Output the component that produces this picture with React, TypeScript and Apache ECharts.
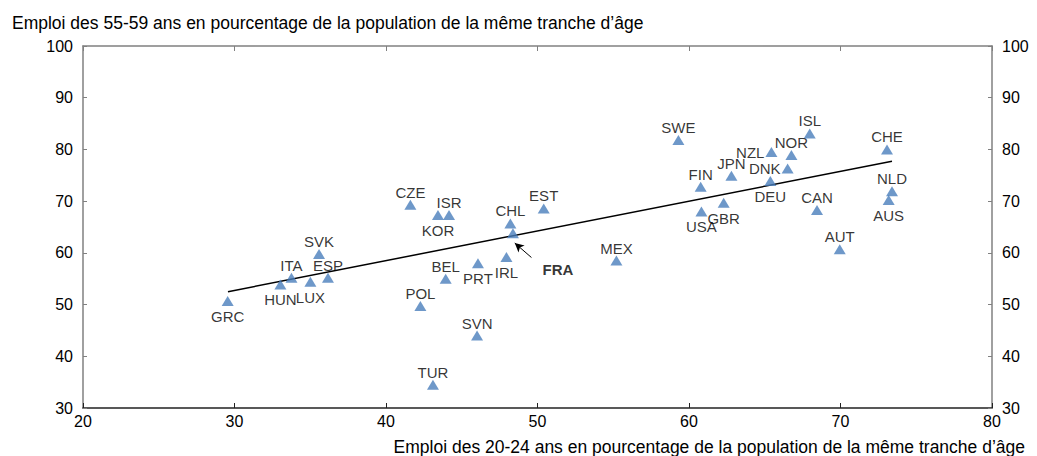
import React, { useEffect, useRef } from "react";
import * as echarts from "echarts";

const countries = ["GRC","HUN","ITA","LUX","ESP","SVK","CZE","KOR","ISR","BEL","POL","SVN","PRT","IRL","CHL","FRA","EST","TUR","MEX","SWE","FIN","USA","GBR","JPN","NZL","DEU","DNK","NOR","ISL","CAN","AUT","CHE","NLD","AUS"];
const youthEmployment = [29.55,33.03,33.76,35.01,36.17,35.58,41.61,43.43,44.16,43.94,42.27,46.01,46.07,47.95,48.21,48.38,50.41,43.10,55.21,59.30,60.77,60.82,62.29,62.80,65.44,65.37,66.51,66.76,67.97,68.45,69.95,73.07,73.40,73.18];
const seniorEmployment = [50.7,53.9,55.2,54.4,55.2,59.8,69.3,67.3,67.3,55.0,49.7,44.0,58.0,59.2,65.7,63.8,68.6,34.5,58.5,81.8,72.8,68.0,69.7,74.9,79.5,73.9,76.3,78.9,83.1,68.3,60.7,80.0,71.9,70.2];
// label placement: t = top, b = bottom, l = left, f = FRA (bold, offset)
const labelPlacement = ["b","b","t","b","t","t","t","b","t","t","t","t","b","b","t","f","t","t","t","t","t","b","b","t","l","b","l","t","t","t","t","t","t","b"];

const trendX = [29.57, 73.4];
const trendY = [52.5, 77.7];
const fraArrowFrom = [49.6, 59.1];
const fraArrowTo = [48.5, 61.9];

const xTicks = { min: 20, max: 80, interval: 10 };
const yTicks = { min: 30, max: 100, interval: 10 };

const titleY = "Emploi des 55-59 ans en pourcentage de la population de la même tranche d’âge";
const titleX = "Emploi des 20-24 ans en pourcentage de la population de la même tranche d’âge";

const FONT = "'Liberation Sans', Arial, sans-serif";
const BLUE = "#4a7ebb";

function labelFor(p: string) {
  const base: any = { show: true, color: "#000", fontSize: 15, fontFamily: FONT };
  if (p === "t") return { ...base, position: "top", distance: 0 };
  if (p === "b") return { ...base, position: "bottom", distance: 3 };
  if (p === "l") return { ...base, position: "left", distance: 1 };
  if (p === "r") return { ...base, position: "right", distance: 1 };
  return { ...base, position: "inside", offset: [45, 36], fontWeight: "bold" };
}

export default function App() {
  const ref = useRef<HTMLDivElement>(null);
  useEffect(() => {
    const chart = echarts.init(ref.current!, null, { renderer: "svg" });
    const scatterData = countries.map((c, i) => ({
      name: c,
      value: [youthEmployment[i], seniorEmployment[i]],
      label: { ...labelFor(labelPlacement[i]), formatter: c },
    }));
    const axisLabel = { color: "#000", fontSize: 16, fontFamily: FONT };
    chart.setOption({
      animation: false,
      title: [
        { text: titleY, left: 7, top: 9, textStyle: { fontSize: 17.5, fontWeight: "normal", color: "#000", fontFamily: FONT } },
        { text: titleX, right: 7, bottom: -4.5, textStyle: { fontSize: 17.5, fontWeight: "normal", color: "#000", fontFamily: FONT } },
      ],
      grid: { left: 83, right: 45, top: 46, bottom: 48 },
      xAxis: [
        {
          type: "value", ...xTicks, position: "bottom",
          axisLine: { show: true, lineStyle: { color: "#222", width: 1.5 } },
          axisTick: { show: true, inside: true, length: 5, lineStyle: { color: "#222" } },
          axisLabel: { ...axisLabel, margin: 5 },
          splitLine: { show: false },
        },
        {
          type: "value", ...xTicks, position: "top",
          axisLine: { show: true, onZero: false, lineStyle: { color: "#808080", width: 1.5 } },
          axisTick: { show: true, inside: true, length: 5, lineStyle: { color: "#808080" } },
          axisLabel: { show: false },
          splitLine: { show: false },
        },
      ],
      yAxis: [
        {
          type: "value", ...yTicks, position: "left",
          axisLine: { show: true, onZero: false, lineStyle: { color: "#808080", width: 1.5 } },
          axisTick: { show: true, inside: true, length: 4, lineStyle: { color: "#808080" } },
          axisLabel: { ...axisLabel, margin: 10 },
          splitLine: { show: false },
        },
        {
          type: "value", ...yTicks, position: "right",
          axisLine: { show: true, onZero: false, lineStyle: { color: "#808080", width: 1.5 } },
          axisTick: { show: true, inside: true, length: 4, lineStyle: { color: "#808080" } },
          axisLabel: { ...axisLabel, margin: 10 },
          splitLine: { show: false },
        },
      ],
      series: [
        {
          type: "line",
          data: trendX.map((x, i) => [x, trendY[i]]),
          symbol: "none",
          lineStyle: { color: "#000", width: 1.5 },
          z: 1,
          silent: true,
        },
        {
          type: "scatter",
          data: scatterData,
          symbol: "triangle",
          symbolSize: [12, 10],
          itemStyle: { color: BLUE },
          z: 3,
          markLine: {
            silent: true,
            symbol: ["none", "arrow"],
            symbolSize: [7, 9],
            label: { show: false },
            lineStyle: { color: "#000", width: 1, type: "solid" },
            data: [[{ coord: fraArrowFrom }, { coord: fraArrowTo }]],
          },
        },
      ],
    });
    return () => chart.dispose();
  }, []);
  return <div ref={ref} style={{ position: "absolute", left: 0, top: 0, width: 1037, height: 456 }} />;
}
